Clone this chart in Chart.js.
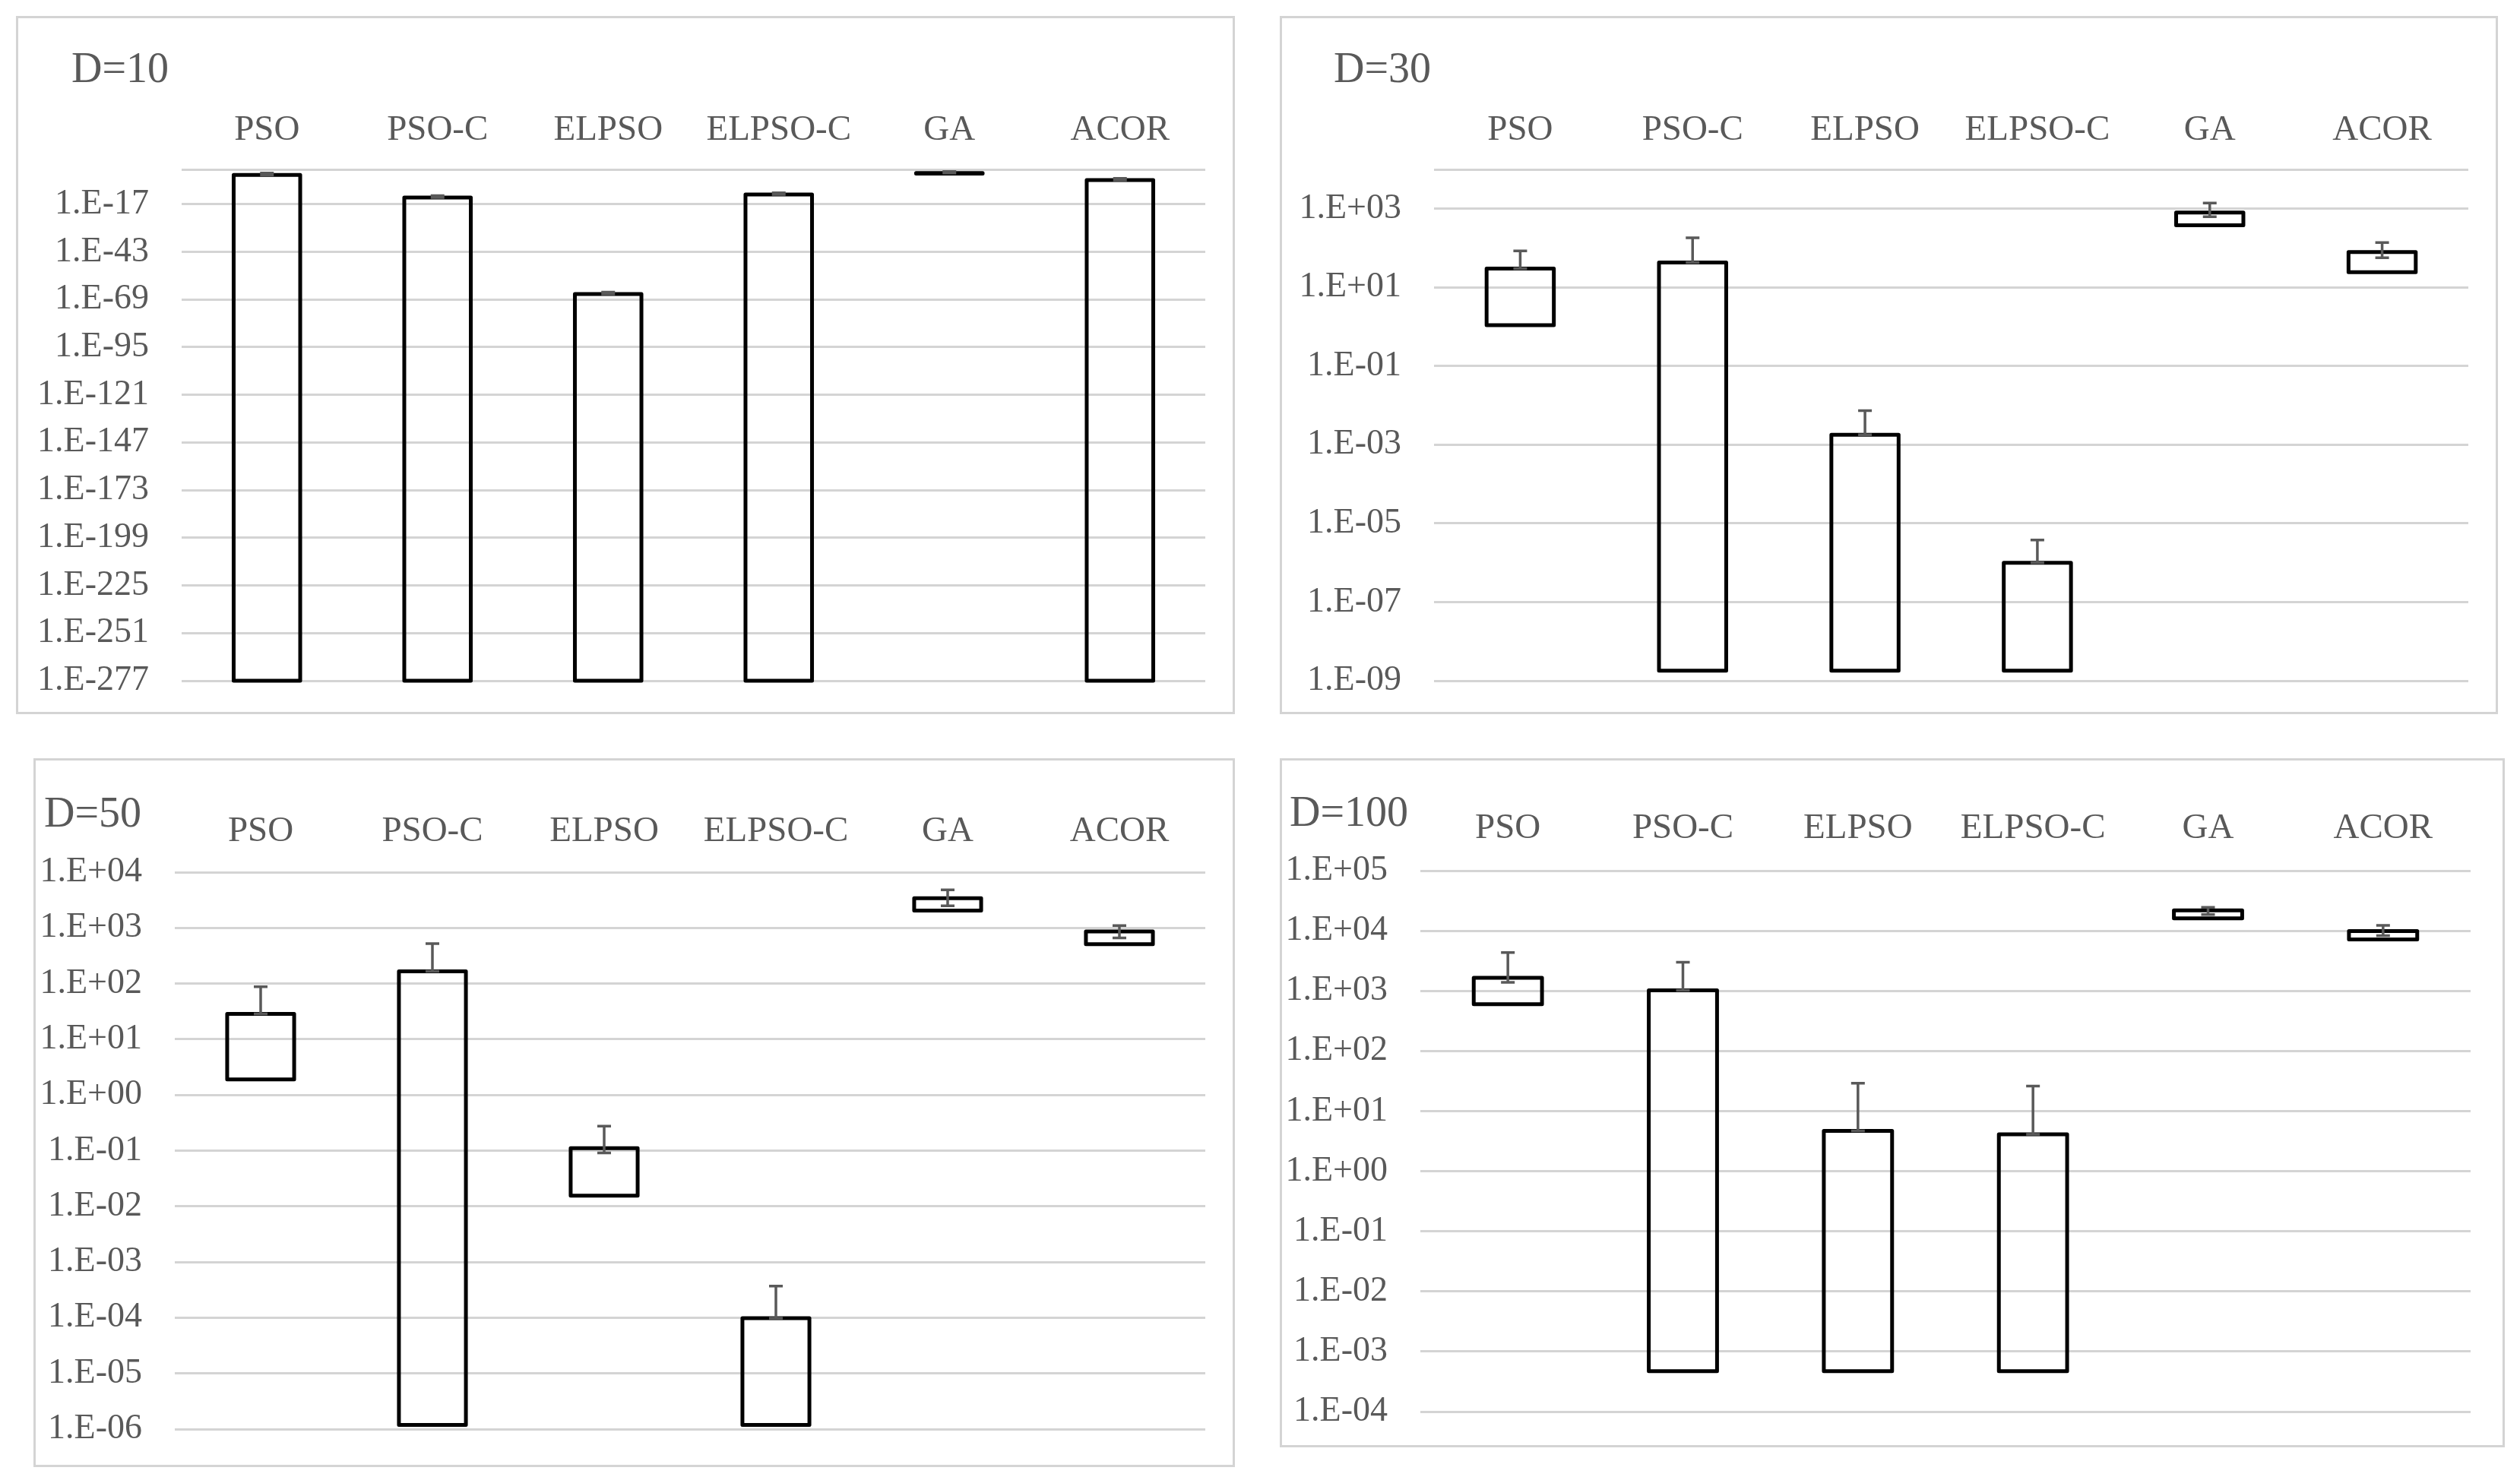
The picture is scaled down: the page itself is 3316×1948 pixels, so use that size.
<!DOCTYPE html>
<html>
<head>
<meta charset="utf-8">
<script src="https://cdn.jsdelivr.net/npm/chart.js@4.4.1/dist/chart.umd.min.js"></script>
<style>
  html, body { margin: 0; padding: 0; background: #ffffff; }
  body { width: 3316px; height: 1948px; position: relative; overflow: hidden; }
  .frame { position: absolute; box-sizing: border-box; border: 3px solid #d4d4d4; }
  canvas { position: absolute; }
</style>
</head>
<body>
<script>
// ---------------- DATA ----------------
const categories = ['PSO', 'PSO-C', 'ELPSO', 'ELPSO-C', 'GA', 'ACOR'];

// D = 10
const d10Low     = [1e-277, 1e-277, 1e-277, 1e-277, 0.52, 1e-277];
const d10High    = [0.11, 5e-14, 1e-66, 2e-12, 1.0, 1.4e-4];
const d10ErrLow  = [0.11, 5e-14, 1e-66, 2e-12, 1.0, 1.4e-4];
const d10ErrHigh = [1.1, 5e-13, 1e-65, 2e-11, 8, 1.4e-3];
const d10Ticks   = [1e2, 1e-17, 1e-43, 1e-69, 1e-95, 1e-121, 1e-147, 1e-173, 1e-199, 1e-225, 1e-251, 1e-277];
const d10Labels  = ['', '1.E-17', '1.E-43', '1.E-69', '1.E-95', '1.E-121', '1.E-147', '1.E-173', '1.E-199', '1.E-225', '1.E-251', '1.E-277'];

// D = 30
const d30Low     = [1.1, 1.8e-9, 1.8e-9, 1.8e-9, 380, 24.5];
const d30High    = [30, 43, 1.8e-3, 1e-6, 800, 79];
const d30ErrLow  = [30, 43, 1.8e-3, 1e-6, 630, 57];
const d30ErrHigh = [85, 182, 7.4e-3, 3.8e-6, 1400, 138];
const d30Ticks   = [1e4, 1e3, 1e1, 1e-1, 1e-3, 1e-5, 1e-7, 1e-9];
const d30Labels  = ['', '1.E+03', '1.E+01', '1.E-01', '1.E-03', '1.E-05', '1.E-07', '1.E-09'];

// D = 50
const d50Low     = [1.9, 1.19e-6, 0.0155, 1.19e-6, 2050, 510];
const d50High    = [28.5, 166, 0.111, 9.8e-5, 3400, 860];
const d50ErrLow  = [28.5, 166, 0.091, 9.8e-5, 2500, 660];
const d50ErrHigh = [88, 520, 0.275, 3.7e-4, 4800, 1100];
const d50Ticks   = [1e4, 1e3, 1e2, 1e1, 1e0, 1e-1, 1e-2, 1e-3, 1e-4, 1e-5, 1e-6];
const d50Labels  = ['1.E+04', '1.E+03', '1.E+02', '1.E+01', '1.E+00', '1.E-01', '1.E-02', '1.E-03', '1.E-04', '1.E-05', '1.E-06'];

// D = 100
const d100Low     = [600, 4.7e-4, 4.7e-4, 4.7e-4, 16100, 7200];
const d100High    = [1650, 1020, 4.7, 4.1, 21800, 9900];
const d100ErrLow  = [1390, 1020, 4.7, 4.1, 18600, 8300];
const d100ErrHigh = [4350, 3000, 29, 26, 24600, 12300];
const d100Ticks   = [1e5, 1e4, 1e3, 1e2, 1e1, 1e0, 1e-1, 1e-2, 1e-3, 1e-4];
const d100Labels  = ['1.E+05', '1.E+04', '1.E+03', '1.E+02', '1.E+01', '1.E+00', '1.E-01', '1.E-02', '1.E-03', '1.E-04'];

// ---------------- LAYOUT ----------------
const panels = [
  { title: 'D=10', low: d10Low, high: d10High, errLow: d10ErrLow, errHigh: d10ErrHigh, ticks: d10Ticks, labels: d10Labels,
    frame: { l: 21, t: 21, r: 1625, b: 940 }, area: { l: 239, t: 223, r: 1586, b: 896 }, titlePos: { x: 94, y: 108 }, catBase: 183 },
  { title: 'D=30', low: d30Low, high: d30High, errLow: d30ErrLow, errHigh: d30ErrHigh, ticks: d30Ticks, labels: d30Labels,
    frame: { l: 1684, t: 21, r: 3287, b: 940 }, area: { l: 1887, t: 223, r: 3248, b: 896 }, titlePos: { x: 1755, y: 108 }, catBase: 183 },
  { title: 'D=50', low: d50Low, high: d50High, errLow: d50ErrLow, errHigh: d50ErrHigh, ticks: d50Ticks, labels: d50Labels,
    frame: { l: 44, t: 998, r: 1625, b: 1931 }, area: { l: 230, t: 1148, r: 1586, b: 1881 }, titlePos: { x: 58, y: 1088 }, catBase: 1106 },
  { title: 'D=100', low: d100Low, high: d100High, errLow: d100ErrLow, errHigh: d100ErrHigh, ticks: d100Ticks, labels: d100Labels,
    frame: { l: 1684, t: 998, r: 3296, b: 1905 }, area: { l: 1869, t: 1146, r: 3251, b: 1858 }, titlePos: { x: 1697, y: 1087 }, catBase: 1102 }
];

const TEXT = '#595959';
const FONT = 'Liberation Serif';
const CANVAS_EXTRA_BOTTOM = 80; // transparent canvas extends below the frame

// Excel-like bars (stroke centred on the value) and error bars
const excelBars = {
  id: 'excelBars',
  afterDatasetsDraw(chart) {
    const ctx = chart.ctx;
    const meta = chart.getDatasetMeta(0);
    const ys = chart.scales.y;
    const ds = chart.data.datasets[0];
    ctx.save();
    ctx.lineJoin = 'round';
    ctx.strokeStyle = '#000000';
    ctx.lineWidth = 5;
    meta.data.forEach((bar) => {
      const p = bar.getProps(['x', 'y', 'base', 'width'], true);
      const top = Math.min(p.y, p.base);
      const h = Math.abs(p.base - p.y);
      ctx.strokeRect(p.x - p.width / 2, top, p.width, h);
    });
    ctx.strokeStyle = '#595959';
    ctx.lineWidth = 3.5;
    ctx.lineJoin = 'miter';
    meta.data.forEach((bar, i) => {
      const x = bar.x;
      const p0 = ys.getPixelForValue(ds.errLow[i]);
      const p1 = ys.getPixelForValue(ds.errHigh[i]);
      ctx.beginPath();
      ctx.moveTo(x, p0); ctx.lineTo(x, p1);
      ctx.moveTo(x - 9, p0); ctx.lineTo(x + 9, p0);
      ctx.moveTo(x - 9, p1); ctx.lineTo(x + 9, p1);
      ctx.stroke();
    });
    ctx.restore();
  }
};

const panelTitle = {
  id: 'panelTitle',
  afterDraw(chart, args, opts) {
    const ctx = chart.ctx;
    ctx.save();
    ctx.font = '56px "' + FONT + '"';
    ctx.fillStyle = TEXT;
    ctx.textBaseline = 'alphabetic';
    ctx.textAlign = 'left';
    ctx.fillText(opts.text, opts.x, opts.y);
    ctx.restore();
  }
};

function build(p) {
  const f = p.frame;
  const W = f.r - f.l, FH = f.b - f.t;
  const H = FH + CANVAS_EXTRA_BOTTOM;
  const div = document.createElement('div');
  div.className = 'frame';
  div.style.left = f.l + 'px'; div.style.top = f.t + 'px';
  div.style.width = W + 'px'; div.style.height = FH + 'px';
  document.body.appendChild(div);

  const c = document.createElement('canvas');
  c.width = W; c.height = H;
  c.style.left = f.l + 'px'; c.style.top = f.t + 'px';
  c.style.width = W + 'px'; c.style.height = H + 'px';
  document.body.appendChild(c);

  const yW = p.area.l - f.l;
  const xH = p.area.t - f.t;
  const minV = Math.min(...p.ticks), maxV = Math.max(...p.ticks);

  const labelFor = (v) => {
    const lv = Math.log10(v);
    for (let i = 0; i < p.ticks.length; i++) {
      if (Math.abs(Math.log10(p.ticks[i]) - lv) < 1e-6) return p.labels[i];
    }
    return '';
  };

  new Chart(c, {
    type: 'bar',
    data: {
      labels: categories,
      datasets: [{
        data: p.low.map((v, i) => [v, p.high[i]]),
        errLow: p.errLow,
        errHigh: p.errHigh,
        backgroundColor: 'rgba(0,0,0,0)',
        borderWidth: 0,
        barPercentage: 0.39,
        categoryPercentage: 1
      }]
    },
    options: {
      responsive: false,
      animation: false,
      devicePixelRatio: 1,
      layout: { padding: { left: 0, top: 0, right: f.r - p.area.r, bottom: (f.t + H) - p.area.b } },
      plugins: {
        legend: { display: false },
        tooltip: { enabled: false },
        title: { display: false },
        panelTitle: { text: p.title, x: p.titlePos.x - f.l, y: p.titlePos.y - f.t }
      },
      scales: {
        x: {
          position: 'top',
          grid: { display: false },
          border: { display: false },
          ticks: {
            color: TEXT,
            font: { family: FONT, size: 47 },
            padding: (p.area.t - p.catBase) - 25.3,
            autoSkip: false,
            maxRotation: 0
          },
          afterFit: (s) => { s.height = xH; }
        },
        y: {
          type: 'logarithmic',
          min: minV,
          max: maxV,
          grid: { color: '#d4d4d4', lineWidth: 3, drawTicks: false },
          border: { display: false },
          ticks: {
            color: TEXT,
            font: { family: FONT, size: 46 },
            padding: 43,
            autoSkip: false,
            callback: (v) => labelFor(v)
          },
          afterBuildTicks: (s) => { s.ticks = p.ticks.map((v) => ({ value: v })); },
          afterFit: (s) => { s.width = yW; }
        }
      }
    },
    plugins: [excelBars, panelTitle]
  });
}

panels.forEach(build);
</script>
</body>
</html>
